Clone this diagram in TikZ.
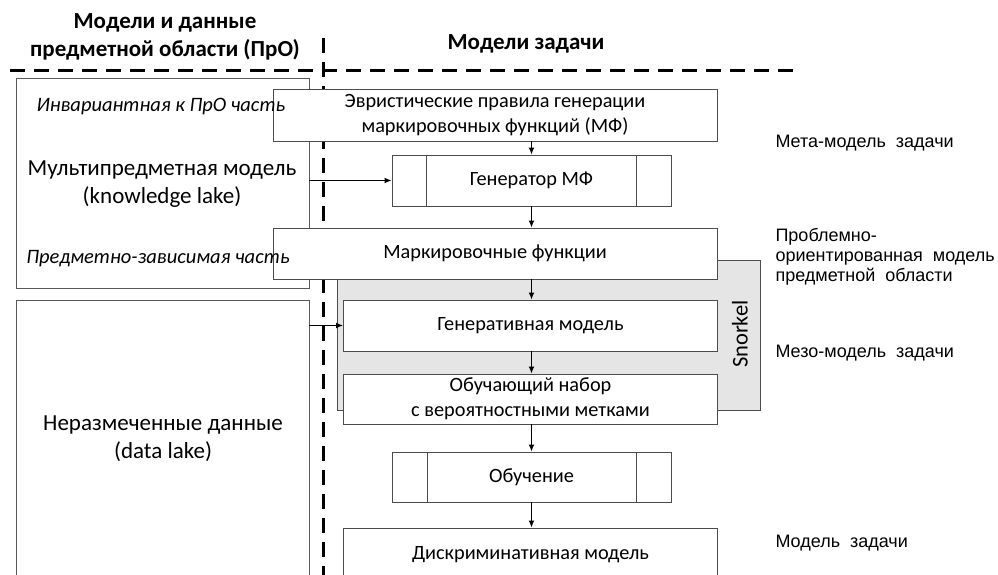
\documentclass[tikz,border=0pt]{standalone}
\usepackage{fontspec}
\setmainfont{Carlito}
\newfontfamily\labelfont{Liberation Sans}
\usetikzlibrary{arrows.meta}
\begin{document}
\begin{tikzpicture}[x=1pt,y=-1pt,
  box/.style={draw=black!70,line width=0.9pt,fill=white,inner sep=0pt,align=center,
    font=\fontsize{20.3}{25}\selectfont},
  lake/.style={draw=black!65,line width=0.9pt,fill=white,inner sep=0pt},
  bigtext/.style={align=center,font=\fontsize{23}{28}\selectfont},
  parttext/.style={font=\itshape\fontsize{20.5}{24}\selectfont},
  head/.style={align=center,font=\bfseries\fontsize{23}{28}\selectfont},
  side/.style={anchor=west,align=left,font=\labelfont\fontsize{18}{20}\selectfont},
  arr/.style={-{Latex[length=7pt,width=6pt]},line width=1.3pt},
  sep/.style={line width=3pt,dash pattern=on 15pt off 9pt}]
\clip (0,0) rectangle (998,575);
\fill[white] (0,0) rectangle (998,575);

% headings
\node[head] (h1) at (165,37) {Модели и данные\\предметной области (ПрО)};
\node[head] (h2) at (526,44) {Модели задачи};

% separators
\draw[sep] (10,71) -- (800,71);
\draw[sep] (323,38) -- (323,575);

% domain side
\node[lake,minimum width=293pt,minimum height=210pt] (L1) at (162.5,183) {};
\node[bigtext] (t2) at (162,184) {Мультипредметная модель\\(knowledge lake)};
\node[lake,minimum width=293pt,minimum height=300pt] (L2) at (162.5,450) {};
\node[bigtext] (t4) at (163,439) {Неразмеченные данные\\(data lake)};

% Snorkel frame
\node[draw=black!70,line width=0.9pt,fill=black!10,minimum width=423pt,minimum height=150pt] (sn) at (548.5,335) {};
\node[rotate=90,font=\fontsize{22.5}{26}\selectfont] (snl) at (740,334) {Snorkel};

% task side
\node[box,minimum width=444pt,minimum height=52pt] (b1) at (495,115) {Эвристические правила генерации\\маркировочных функций (МФ)};
\node[box,minimum width=279pt,minimum height=51pt] (b2) at (531.5,180.5) {Генератор МФ};
\draw[black!70,line width=0.9pt] (426,155) -- (426,206) (636,155) -- (636,206);
\node[box,minimum width=444pt,minimum height=51pt] (b3) at (495,253.5) {Маркировочные функции};
\node[box,minimum width=374pt,minimum height=51pt] (b4) at (530.5,325.5) {Генеративная модель};
\node[box,minimum width=374pt,minimum height=50pt] (b5) at (530.5,399) {Обучающий набор\\с вероятностными метками};
\node[box,minimum width=279pt,minimum height=50pt] (b6) at (531.5,477) {Обучение};
\draw[black!70,line width=0.9pt] (427,452) -- (427,502) (636,452) -- (636,502);
\node[box,minimum width=374pt,minimum height=54pt] (b7) at (530.5,555) {Дискриминативная модель};

% part captions of the multi-domain model, set over the task boxes
\node[parttext] (t1) at (161,107) {Инвариантная к ПрО часть};
\node[parttext] (t3) at (158,259) {Предметно-зависимая часть};

% flow
\draw[arr] (b2.north |- b1.south) -- (b2.north);
\draw[arr] (b2.south) -- (b2.south |- b3.north);
\draw[arr] (b2.south |- b3.south) -- (b2.south |- b4.north);
\draw[arr] (b2.south |- b4.south) -- (b2.south |- b5.north);
\draw[arr] (b2.south |- b5.south) -- (b6.north);
\draw[arr] (b6.south) -- (b6.south |- b7.north);
\draw[arr] (L1.east |- b2.west) -- (b2.west);
\draw[arr] (L2.east |- b4.west) -- (b4.west);

% levels
\node[side] (s1) at (772,143) {Мета-модель\ \ задачи};
\node[side] (s2) at (772,257) {Проблемно-\\ориентированная\ \ модель\\предметной\ \ области};
\node[side] (s3) at (772,353) {Мезо-модель\ \ задачи};
\node[side] (s4) at (772,543) {Модель\ \ задачи};
\end{tikzpicture}
\end{document}
